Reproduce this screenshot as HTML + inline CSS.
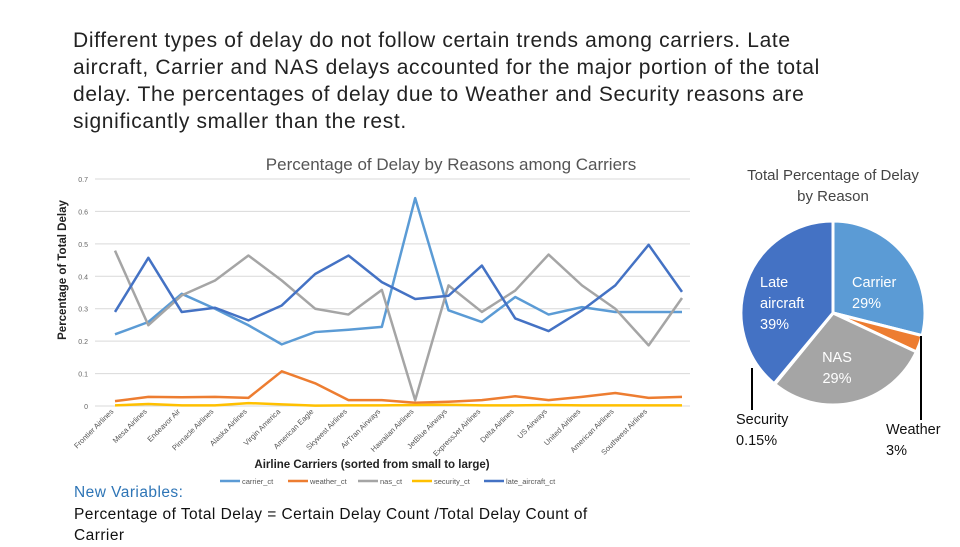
<!DOCTYPE html>
<html><head><meta charset="utf-8"><style>
body{margin:0;width:960px;height:540px;background:#fff;overflow:hidden;font-family:"Liberation Sans",sans-serif;position:relative}
.t{position:absolute;left:73px;top:27px;width:770px;font-size:21px;line-height:27px;color:#222;letter-spacing:0.65px}
.nv{position:absolute;left:74px;top:482px;font-size:15.5px;line-height:21.5px;color:#111;letter-spacing:0.45px}
</style></head><body>
<div class="t">Different types of delay do not follow certain trends among carriers. Late aircraft, Carrier and NAS delays accounted for the major portion of the total delay. The percentages of delay due to Weather and Security reasons are significantly smaller than the rest.</div>
<div class="nv"><span style="color:#2e75b6">New Variables:</span><br>Percentage of Total Delay = Certain Delay Count /Total Delay Count of<br>Carrier</div>
<svg id="c" width="960" height="540" style="position:absolute;left:0;top:0"></svg>
<script>
const categories=["Frontier Airlines","Mesa Airlines","Endeavor Air","Pinnacle Airlines","Alaska Airlines","Virgin America","American Eagle","Skywest Airlines","AirTran Airways","Hawaiian Airlines","JetBlue Airways","ExpressJet Airlines","Delta Airlines","US Airways","United Airlines","American Airlines","Southwest Airlines",""];
const carrier=[0.221,0.259,0.346,0.30,0.249,0.19,0.228,0.235,0.244,0.641,0.295,0.259,0.336,0.282,0.305,0.29,0.29,0.29];
const weather=[0.015,0.028,0.027,0.028,0.025,0.107,0.07,0.018,0.018,0.01,0.013,0.018,0.03,0.018,0.028,0.04,0.025,0.028];
const nas=[0.479,0.249,0.341,0.387,0.464,0.387,0.30,0.282,0.358,0.018,0.372,0.29,0.356,0.467,0.372,0.30,0.187,0.333];
const security=[0.002,0.006,0.002,0.002,0.009,0.005,0.001,0.002,0.002,0.003,0.004,0.002,0.002,0.003,0.002,0.002,0.002,0.002];
const late=[0.29,0.457,0.29,0.303,0.264,0.31,0.407,0.464,0.382,0.33,0.34,0.433,0.27,0.231,0.295,0.372,0.497,0.352];
const yTicks=[0,0.1,0.2,0.3,0.4,0.5,0.6,0.7];
const pieLabels=["Carrier","Weather","NAS","Security","Late aircraft"];
const pieValues=[29,3,29,0.15,39];
const svg=document.getElementById('c');const NS='http://www.w3.org/2000/svg';
function mk(t,a,p){const e=document.createElementNS(NS,t);for(const k in a)e.setAttribute(k,a[k]);(p||svg).appendChild(e);return e;}
const X=i=>115+i*(682-115)/(categories.length-1);
const Y=v=>406-v*(406-179)/0.7;
let e;
e=mk('text',{x:451,y:170,'text-anchor':'middle','font-size':17,fill:'#555'});e.textContent='Percentage of Delay by Reasons among Carriers';


yTicks.forEach(v=>{
 const g=mk('line',{x1:95,x2:690,y1:Y(v),y2:Y(v),stroke:'#d9d9d9','stroke-width':1});
 
 
 const t=mk('text',{x:88,y:Y(v)+3,'text-anchor':'end','font-size':7,fill:'#666'});t.textContent=v;
 
 
});
e=mk('text',{x:0,y:0,transform:'translate(66,270) rotate(-90)','text-anchor':'middle','font-size':11.5,'font-weight':'bold',fill:'#222'});e.textContent='Percentage of Total Delay';


categories.forEach((c,i)=>{
 const t=mk('text',{transform:`translate(${X(i)-1},${412}) rotate(-45)`,'text-anchor':'end','font-size':7.5,fill:'#555'});t.textContent=c;
 
 
});
e=mk('text',{x:372,y:468,'text-anchor':'middle','font-size':11.5,'font-weight':'bold',fill:'#222'});e.textContent='Airline Carriers (sorted from small to large)';


const series=[["carrier_ct",carrier,'#5b9bd5'],["weather_ct",weather,'#ed7d31'],["nas_ct",nas,'#a5a5a5'],["security_ct",security,'#ffc000'],["late_aircraft_ct",late,'#4472c4']];
series.forEach(([n,d,col])=>{
 const p=mk('polyline',{points:d.map((v,i)=>X(i)+','+Y(v)).join(' '),fill:'none',stroke:col,'stroke-width':2.5,'stroke-linejoin':'round'});
 
 
});
const lx=[220,288,358,412,484];
series.forEach(([n,d,col],k)=>{
 const g=mk('g',{});
 
 
 mk('line',{x1:lx[k],x2:lx[k]+20,y1:481,y2:481,stroke:col,'stroke-width':2.5},g);
 const t=mk('text',{x:lx[k]+22,y:484,'font-size':7.5,fill:'#555'},g);t.textContent=n;
});
// pie
e=mk('text',{x:833,y:180,'text-anchor':'middle','font-size':15,fill:'#444'});e.textContent='Total Percentage of Delay';


e=mk('text',{x:833,y:201,'text-anchor':'middle','font-size':15,fill:'#444'});e.textContent='by Reason';


const pcol=['#5b9bd5','#ed7d31','#a5a5a5','#ffc000','#4472c4'];
const cx=833,cy=313,r=92;const tot=pieValues.reduce((a,b)=>a+b,0);let a0=0;
const pt=(a,rr)=>[cx+rr*Math.sin(a),cy-rr*Math.cos(a)];
pieValues.forEach((v,i)=>{
 const a1=a0+v/tot*2*Math.PI;const[p0x,p0y]=pt(a0,r),[p1x,p1y]=pt(a1,r);
 const s=mk('path',{d:`M${cx},${cy}L${p0x},${p0y}A${r},${r} 0 ${a1-a0>Math.PI?1:0} 1 ${p1x},${p1y}Z`,fill:pcol[i],stroke:'#fff','stroke-width':3});
 
 
 a0=a1;
});
function lab(x,y,lines,col,anchor,nm){lines.forEach((l,k)=>{const t=mk('text',{x:x,y:y+k*21,'font-size':14.5,fill:col,'text-anchor':anchor||'start'});t.textContent=l;
 
 });}
lab(760,287,['Late','aircraft',pieValues[4]+'%'],'#fff','start','pie-label-late-aircraft');
lab(852,287,['Carrier',pieValues[0]+'%'],'#fff','start','pie-label-carrier');
lab(837,362,['NAS',pieValues[2]+'%'],'#fff','middle','pie-label-nas');
lab(736,424,['Security',pieValues[3]+'%'],'#111','start','pie-label-security');
lab(886,434,['Weather',pieValues[1]+'%'],'#111','start','pie-label-weather');
e=mk('line',{x1:752,x2:752,y1:368,y2:410,stroke:'#000','stroke-width':2});


e=mk('line',{x1:921,x2:921,y1:336,y2:420,stroke:'#000','stroke-width':2});


</script>
</body></html>
